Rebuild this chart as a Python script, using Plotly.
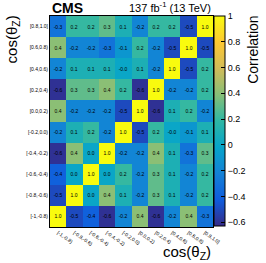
import plotly.graph_objects as go

bins = ["[-1,-0.8)", "[-0.8,-0.6)", "[-0.6,-0.4)", "[-0.4,-0.2)", "[-0.2,0.0)",
        "[0.0,0.2)", "[0.2,0.4)", "[0.4,0.6)", "[0.6,0.8)", "[0.8,1.0]"]

# rows listed from bottom bin [-1,-0.8) to top bin [0.8,1.0]
row_m10_m08 = [1.0, -0.5, -0.4, -0.6, -0.2, 0.4, -0.6, -0.2, 0.4, -0.3]
row_m08_m06 = [-0.5, 1.0, 0.0, 0.4, 0.1, -0.2, 0.3, 0.1, -0.2, 0.2]
row_m06_m04 = [-0.4, 0.0, 1.0, 0.0, 0.2, -0.2, 0.3, 0.1, -0.2, 0.2]
row_m04_m02 = [-0.6, 0.4, 0.0, 1.0, -0.2, -0.2, 0.4, 0.1, -0.3, 0.3]
row_m02_p00 = [-0.2, 0.1, 0.2, -0.2, 1.0, -0.5, 0.2, -0.0, -0.1, 0.1]
row_p00_p02 = [0.4, -0.2, -0.2, -0.2, -0.5, 1.0, -0.6, 0.1, 0.2, -0.2]
row_p02_p04 = [-0.6, 0.3, 0.3, 0.4, 0.2, -0.6, 1.0, -0.2, -0.2, 0.2]
row_p04_p06 = [-0.2, 0.1, 0.1, 0.1, -0.0, 0.1, -0.2, 1.0, -0.5, 0.2]
row_p06_p08 = [0.4, -0.2, -0.2, -0.3, -0.1, 0.2, -0.2, -0.5, 1.0, -0.5]
row_p08_p10 = [-0.3, 0.2, 0.2, 0.3, 0.1, -0.2, 0.2, 0.2, -0.5, 1.0]

z = [row_m10_m08, row_m08_m06, row_m06_m04, row_m04_m02, row_m02_p00,
     row_p00_p02, row_p02_p04, row_p04_p06, row_p06_p08, row_p08_p10]
text = [[f"{v:.1f}" for v in r] for r in z]

cb_ticks = [1, 0.8, 0.6, 0.4, 0.2, 0, -0.2, -0.4, -0.6]

bird = [
    [0.000, "rgb(53,42,135)"],
    [0.125, "rgb(15,92,221)"],
    [0.250, "rgb(20,129,214)"],
    [0.375, "rgb(6,164,202)"],
    [0.500, "rgb(46,183,164)"],
    [0.625, "rgb(135,191,119)"],
    [0.750, "rgb(209,187,89)"],
    [0.875, "rgb(254,200,50)"],
    [1.000, "rgb(249,251,14)"],
]

FONT = "Liberation Sans, Arial, sans-serif"

fig = go.Figure(go.Heatmap(
    z=z, x=bins, y=bins, text=text, texttemplate="%{text}",
    textfont=dict(size=5, color="black", family=FONT),
    colorscale=bird, zmin=-0.63, zmax=1.0, xgap=0, ygap=0,
    colorbar=dict(
        x=1.006, xanchor="left", xref="paper", y=1.0, yanchor="top",
        lenmode="pixels", len=210, thicknessmode="pixels", thickness=11,
        outlinewidth=1, outlinecolor="black", ypad=0, xpad=0,
        tickvals=cb_ticks, ticks="inside", ticklen=4, tickcolor="black",
        tickfont=dict(size=9, family=FONT, color="black"),
    ),
))

fig.update_layout(
    template="none",
    width=266, height=263,
    margin=dict(l=50, r=53, t=16, b=36, autoexpand=False),
    paper_bgcolor="white", plot_bgcolor="white",
    font=dict(family=FONT, color="black"),
    xaxis=dict(type="category", categoryorder="array", categoryarray=bins,
               tickangle=35, tickfont=dict(size=5), showline=True,
               linecolor="black", linewidth=1, mirror=True, ticks="",
               automargin=False, showgrid=False, zeroline=False),
    yaxis=dict(type="category", categoryorder="array", categoryarray=bins,
               tickfont=dict(size=5), showline=True, linecolor="black",
               linewidth=1, mirror=True, ticks="", automargin=False,
               showgrid=False, zeroline=False),
    annotations=[
        dict(text="<b>CMS</b>", xref="paper", yref="paper", x=0.0, y=1.0,
             xanchor="left", yanchor="bottom", showarrow=False, yshift=-2,
             font=dict(size=14)),
        dict(text="137 fb<sup>-1</sup> (13 TeV)", xref="paper", yref="paper",
             x=1.0, y=1.0, xanchor="right", yanchor="bottom", showarrow=False,
             yshift=0, font=dict(size=11)),
        dict(text="cos(θ<sub>Z</sub>)", xref="paper", yref="paper",
             x=1.0, y=0, xanchor="right", yanchor="top", showarrow=False,
             yshift=-14, font=dict(size=15)),
        dict(text="cos(θ<sub>Z</sub>)", xref="paper", yref="paper",
             x=-0.23, y=1.01, xanchor="center", yanchor="top", showarrow=False,
             textangle=-90, font=dict(size=15)),
        dict(text="Correlation", xref="paper", yref="paper",
             x=1.245, y=1.01, xanchor="center", yanchor="top", showarrow=False,
             textangle=-90, font=dict(size=14)),
    ],
)

fig.write_html("out.html", config={"displayModeBar": False},
               post_script="document.body.style.margin='0px';document.body.style.overflow='hidden';")
